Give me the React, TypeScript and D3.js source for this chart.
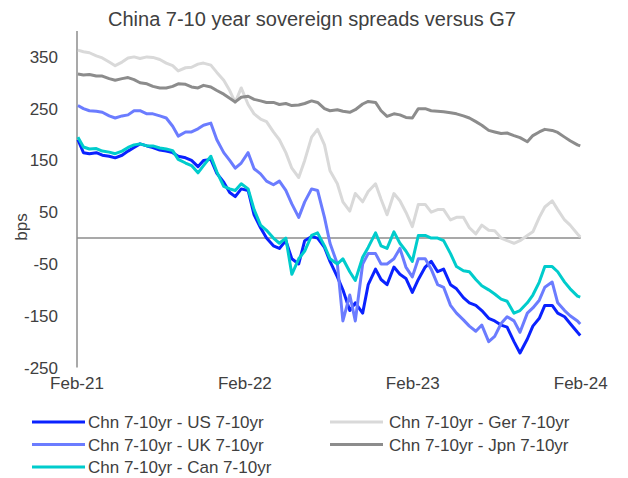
import React from "react";
import * as d3 from "d3";

const dates = [
  "2021-02-03","2021-02-15","2021-02-28","2021-03-15","2021-03-28","2021-04-12","2021-04-25","2021-05-10","2021-05-23","2021-06-05",
  "2021-06-18","2021-07-03","2021-07-16","2021-07-31","2021-08-14","2021-08-28","2021-09-09","2021-09-25","2021-10-08","2021-10-22",
  "2021-11-03","2021-11-19","2021-12-02","2021-12-17","2021-12-30","2022-01-11","2022-01-24","2022-02-08","2022-02-21","2022-03-07",
  "2022-03-20","2022-04-04","2022-04-17","2022-05-01","2022-05-14","2022-05-29","2022-06-11","2022-06-26","2022-07-09","2022-07-24",
  "2022-08-05","2022-08-21","2022-09-02","2022-09-17","2022-09-29","2022-10-15","2022-10-27","2022-11-12","2022-11-24","2022-12-07",
  "2022-12-22","2023-01-04","2023-01-17","2023-01-31","2023-02-13","2023-02-28","2023-03-13","2023-03-27","2023-04-09","2023-04-24",
  "2023-05-07","2023-05-22","2023-06-04","2023-06-18","2023-07-01","2023-07-16","2023-07-29","2023-08-12","2023-08-25","2023-09-09",
  "2023-09-22","2023-10-08","2023-10-20","2023-11-03","2023-11-15","2023-12-01","2023-12-13","2023-12-28","2024-01-09","2024-01-25",
  "2024-01-31",
];

const usSpread = [
  190,165,163,165,160,158,155,160,168,175,
  182,178,175,170,168,165,158,155,150,138,
  150,152,125,108,88,80,95,92,45,20,
  0,-15,-20,-5,-40,-50,-5,3,0,-18,
  -45,-75,-100,-140,-125,-145,-90,-60,-80,-90,
  -56,-70,-78,-105,-80,-56,-45,-65,-60,-90,
  -98,-115,-125,-130,-140,-155,-160,-168,-172,-200,
  -222,-195,-170,-155,-130,-130,-145,-152,-165,-182,
  -188,
];

const gerSpread = [
  363,360,358,352,348,340,333,340,348,350,
  347,350,349,345,338,333,323,329,330,336,
  338,334,320,305,285,262,290,258,240,230,
  225,205,190,165,135,117,150,195,210,180,
  130,105,70,52,86,70,90,105,75,45,
  86,72,50,22,65,65,50,55,55,35,
  40,40,20,8,25,15,14,0,-5,-10,
  -5,5,12,40,60,72,55,35,25,8,
  2,
];

const ukSpread = [
  256,250,246,245,243,236,232,236,238,246,
  246,240,240,236,232,216,197,205,205,211,
  218,222,190,165,150,135,145,165,134,124,
  110,103,110,92,66,40,70,95,92,40,
  -10,-50,-160,-110,-160,-50,-30,-30,-50,-50,
  -40,-20,-56,-75,-40,-40,-60,-90,-95,-130,
  -145,-158,-170,-180,-168,-200,-190,-165,-152,-160,
  -182,-145,-135,-120,-95,-85,-125,-140,-150,-160,
  -166,
];

const jpnSpread = [
  317,315,316,313,313,308,305,308,310,306,
  300,298,293,290,290,293,298,297,292,290,
  295,292,285,278,270,263,272,274,268,265,
  262,262,258,260,256,257,260,265,262,250,
  246,248,245,243,248,259,264,262,246,235,
  240,238,233,232,250,250,246,245,244,242,
  240,236,232,225,218,208,205,202,203,198,
  194,186,198,205,210,208,204,195,188,180,
  178,
];

const canSpread = [
  195,176,172,173,168,166,163,168,175,180,
  182,178,178,174,172,169,152,145,140,126,
  140,158,128,100,95,92,105,95,55,25,
  15,0,-10,0,-70,-40,-25,5,10,-15,
  -40,-50,-40,-65,-82,-37,-18,10,-15,-20,
  12,-10,-25,-45,5,5,0,0,-5,-30,
  -55,-63,-65,-80,-92,-100,-108,-118,-122,-145,
  -140,-125,-110,-85,-55,-55,-65,-85,-98,-112,
  -114,
];

const seriesNames = [
  "Chn 7-10yr - US 7-10yr",
  "Chn 7-10yr - Ger 7-10yr",
  "Chn 7-10yr - UK 7-10yr",
  "Chn 7-10yr - Jpn 7-10yr",
  "Chn 7-10yr - Can 7-10yr",
];
const seriesValues = [usSpread, gerSpread, ukSpread, jpnSpread, canSpread];
const seriesColors = ["#0a22ff", "#d9d9d9", "#6b7cff", "#8c8c8c", "#00cccc"];

const yTicks = [-250, -150, -50, 50, 150, 250, 350];
const xTickDates = ["2021-02-01", "2022-02-01", "2023-02-01", "2024-02-01"];
const xTickLabels = ["Feb-21", "Feb-22", "Feb-23", "Feb-24"];

const FONT = "'Liberation Sans', Arial, sans-serif";

export default function App() {
  const W = 628;
  const H = 478;
  const parse = d3.utcParse("%Y-%m-%d");
  const x = d3
    .scaleUtc()
    .domain([parse("2021-02-01") as Date, parse("2024-02-01") as Date])
    .range([77, 580.7]);
  const y = d3.scaleLinear().domain([-250, 400]).range([367.5, 31]);
  const parsedDates = dates.map((d) => parse(d) as Date);

  const line = d3
    .line<[Date, number]>()
    .x((d) => x(d[0]))
    .y((d) => y(d[1]));

  const legendPos = [
    { lx: 32, tx: 88, y: 422 },
    { lx: 330, tx: 389, y: 422 },
    { lx: 32, tx: 88, y: 444.5 },
    { lx: 330, tx: 389, y: 444.5 },
    { lx: 32, tx: 88, y: 467 },
  ];

  return (
    <svg
      width={W}
      height={H}
      style={{ position: "absolute", left: 0, top: 0, background: "#fff" }}
      fontFamily={FONT}
    >
      <rect x={0} y={0} width={W} height={H} fill="#fff" />
      <text x={312} y={26} textAnchor="middle" fontSize={20} fill="#404040">
        China 7-10 year sovereign spreads versus G7
      </text>

      {/* y axis */}
      <line x1={77} x2={77} y1={y(400)} y2={y(-250)} stroke="#8c8c8c" strokeWidth={1.5} />
      {yTicks.map((t) => (
        <text key={t} x={58} y={y(t) + 6} textAnchor="end" fontSize={17} fill="#404040">
          {t}
        </text>
      ))}
      <text
        transform={`translate(21,227) rotate(-90)`}
        textAnchor="middle"
        dominantBaseline="central"
        fontSize={17}
        fill="#404040"
      >
        bps
      </text>

      {/* x labels */}
      {xTickDates.map((d, i) => (
        <text key={d} x={x(parse(d) as Date)} y={389} textAnchor="middle" fontSize={17} fill="#404040">
          {xTickLabels[i]}
        </text>
      ))}

      {/* zero line */}
      <line x1={77} x2={580.7} y1={y(0)} y2={y(0)} stroke="#8c8c8c" strokeWidth={1.5} />

      {/* series */}
      {seriesValues.map((vals, i) => (
        <path
          key={seriesNames[i]}
          d={line(parsedDates.map((d, j) => [d, vals[j]] as [Date, number])) || ""}
          fill="none"
          stroke={seriesColors[i]}
          strokeWidth={3}
          strokeLinejoin="round"
        />
      ))}

      {/* legend */}
      {seriesNames.map((name, i) => (
        <g key={name}>
          <line
            x1={legendPos[i].lx}
            x2={legendPos[i].lx + 53}
            y1={legendPos[i].y}
            y2={legendPos[i].y}
            stroke={seriesColors[i]}
            strokeWidth={3}
          />
          <text x={legendPos[i].tx} y={legendPos[i].y + 6} fontSize={17} fill="#404040">
            {name}
          </text>
        </g>
      ))}
    </svg>
  );
}
